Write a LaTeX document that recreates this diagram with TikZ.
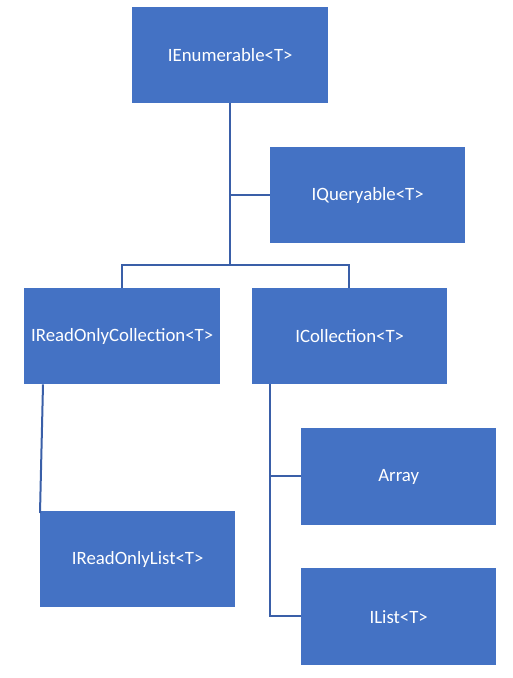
\documentclass[tikz,border=0pt]{standalone}
\usepackage{fontspec}
\setmainfont{Carlito}
\definecolor{boxblue}{HTML}{4472C4}
\definecolor{lineblue}{HTML}{3A5FA8}
\begin{document}
\begin{tikzpicture}[x=1pt,y=-1pt,
  cls/.style={fill=boxblue,draw=none,minimum width=196pt,minimum height=96pt,inner sep=0pt,text=white,font=\fontsize{18.8}{22}\selectfont},
  conn/.style={draw=lineblue,line width=2pt}]
\useasboundingbox (0,0) rectangle (512,678);
\node[cls,anchor=north west] (ienum) at (132,7) {IEnumerable<T>};
\node[cls,anchor=north west,minimum width=195pt] (iquery) at (270,147) {IQueryable<T>};
\node[cls,anchor=north west] (iroc) at (24,288) {IReadOnlyCollection<T>};
\node[cls,anchor=north west,minimum width=195pt] (icoll) at (252,288) {ICollection<T>};
\node[cls,anchor=north west,minimum width=195pt,minimum height=97pt] (array) at (301,428) {Array};
\node[cls,anchor=north west,minimum width=195pt] (irol) at (40,511) {IReadOnlyList<T>};
\node[cls,anchor=north west,minimum width=195pt,minimum height=97pt] (ilist) at (301,568) {IList<T>};
\coordinate (j1) at (230,195);
\coordinate (j2) at (230,265);
\coordinate (j3) at (270,476);
\coordinate (j4) at (270,616);
\draw[conn] (ienum.south -| j1) -- (j2);
\draw[conn] (j1) -- (iquery.west |- j1);
\draw[conn] (122,288) |- (349,265) -- (349,288);
\draw[conn] (icoll.south -| j3) -- (j4) -- (ilist.west |- j4);
\draw[conn] (j3) -- (array.west |- j3);
\draw[conn] ([xshift=19pt]iroc.south west) -- ([yshift=-2pt]irol.north west);
\end{tikzpicture}
\end{document}
